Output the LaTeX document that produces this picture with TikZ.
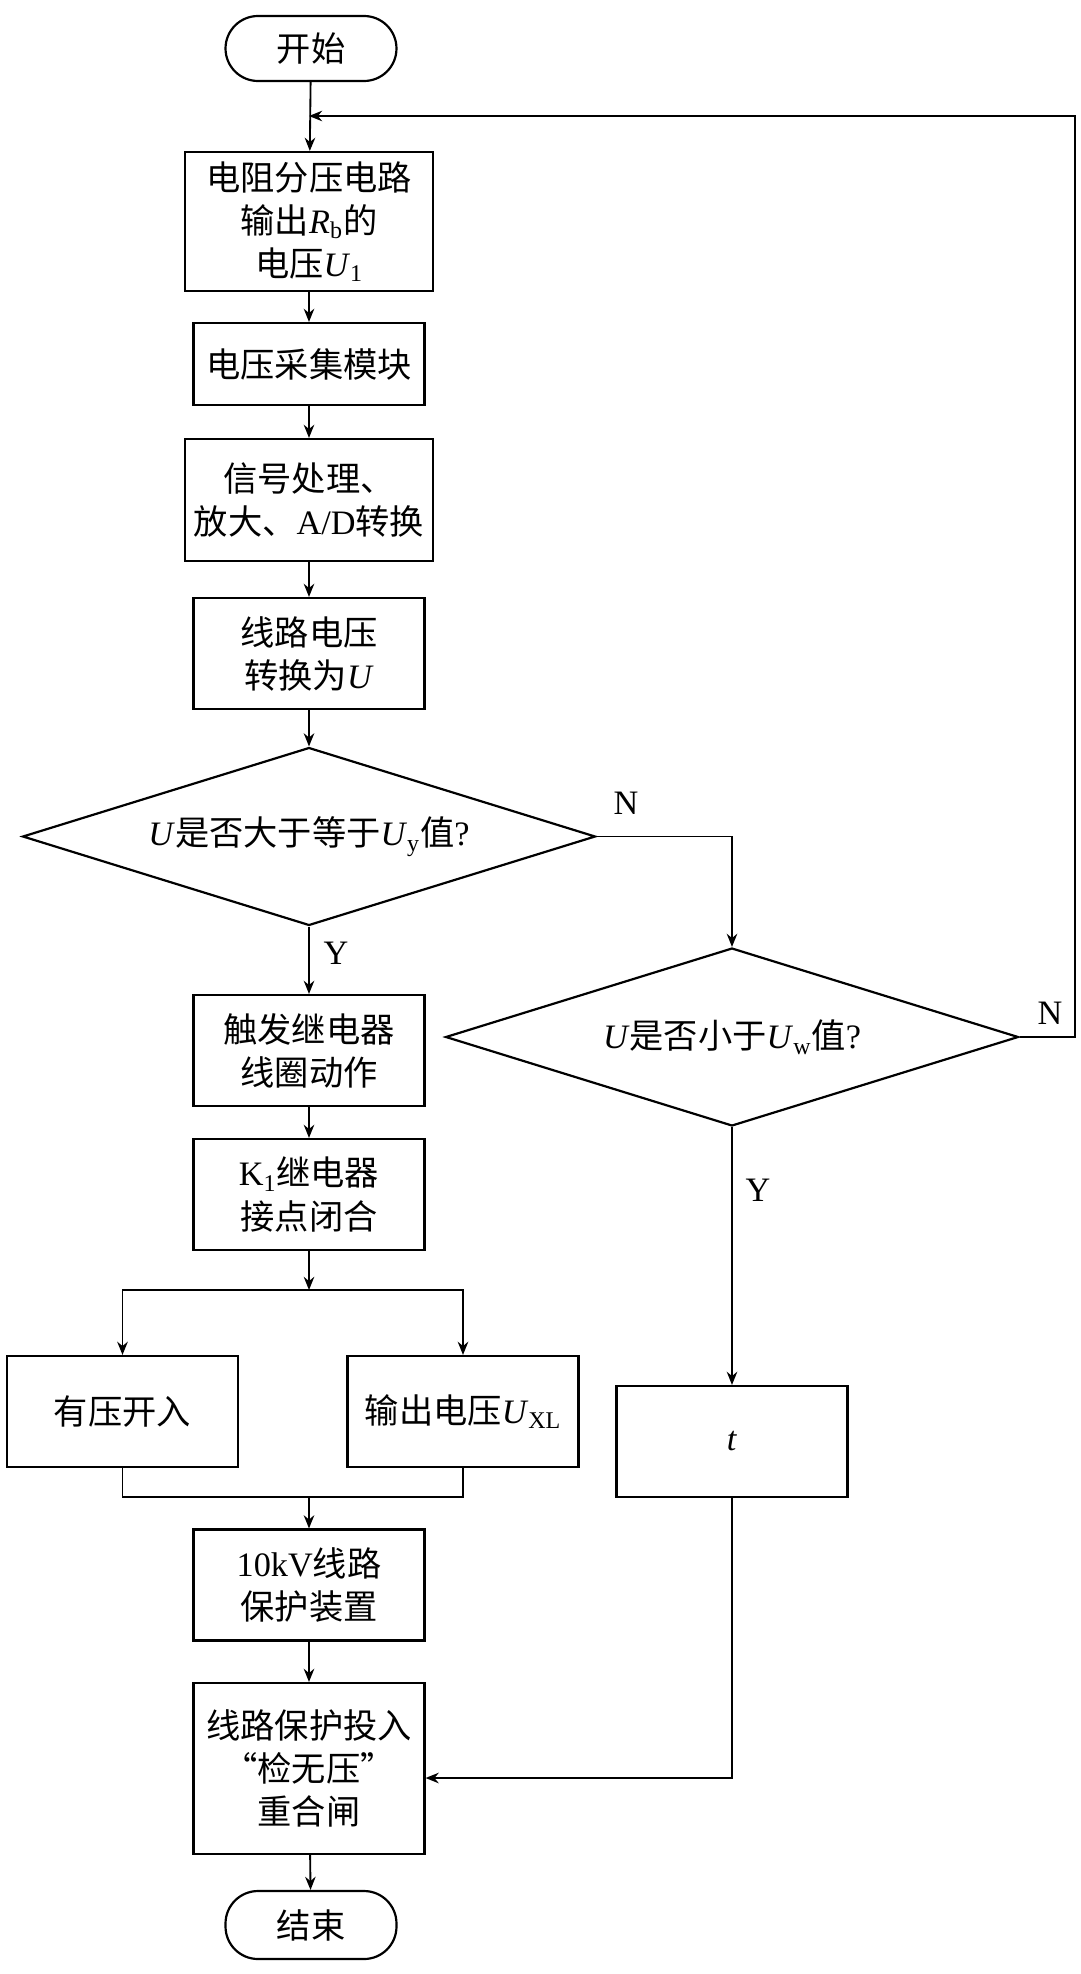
\documentclass[tikz,border=0pt]{standalone}
\usepackage{fontspec}
\setmainfont{Liberation Serif}
\newfontfamily\cjk{Noto Sans CJK SC}
\usepackage{tikz}
\usetikzlibrary{arrows.meta, positioning, shapes.geometric}
\newcommand{\rt}[1]{{\rmfamily #1}}
\newcommand{\uu}[1]{{\rmfamily\textit{U}\textsubscript{#1}}}
\tikzset{
    flow_line/.style={-{Stealth[length=7.5pt, width=6pt]}, line width=1.05pt},
    plain_line/.style={line width=1.05pt},
    process/.style={draw, line width=1.25pt, align=center, inner sep=2pt,
        minimum width=4.62cm, minimum height=2.22cm,
        font=\cjk\fontsize{19.5pt}{24.5pt}\selectfont},
    terminal/.style={process, rounded corners=0.65cm, minimum width=3.42cm, minimum height=1.3cm},
    decision/.style={process, diamond, aspect=3.2, inner sep=0pt, minimum width=11.46cm, minimum height=3.56cm},
    yn_label/.style={font=\rmfamily\fontsize{19.5pt}{24.5pt}\selectfont}
}
\begin{document}
\begin{tikzpicture}[x=0.02cm, y=-0.02cm]
    \useasboundingbox (0,0) rectangle (1080,1974);
    % main column
    \node[terminal] (start) at (311,48.5) {开始};
    \node[process, minimum width=4.96cm, minimum height=2.78cm] (divider) at (309,221.5)
        {电阻分压电路\\输出\rt{\textit{R}\textsubscript{b}}的\\电压\uu{1}};
    \node[process, minimum height=1.64cm] (sampler) at (309,364) {电压采集模块};
    \node[process, minimum width=4.96cm, minimum height=2.44cm] (adc) at (309,500)
        {信号处理、\\放大、\rt{A/D}转换};
    \node[process] (convert) at (309,653.5) {线路电压\\转换为\rt{\textit{U}}};
    \node[decision] (checkhigh) at (309,836.5) {\rt{\textit{U}}是否大于等于\uu{y}值\rt{?}};
    \node[process] (relay) at (309,1050.5) {触发继电器\\线圈动作};
    \node[process] (contact) at (309,1194.5) {\rt{K\textsubscript{1}}继电器\\接点闭合};
    \node[process] (pressin) at (122.5,1411.5) {有压开入};
    \node[process] (outvolt) at (463,1411.5) {输出电压\uu{XL}};
    \node[process] (protect) at (309,1585) {\rt{10kV}线路\\保护装置};
    \node[process, minimum height=3.42cm] (reclose) at (309,1768.5) {线路保护投入\\“检无压”\\重合闸};
    \node[terminal, minimum height=1.36cm] (stop) at (311,1925) {结束};
    % right column
    \node[decision] (checklow) at (732,1037) {\rt{\textit{U}}是否小于\uu{w}值\rt{?}};
    \node[process] (delay) at (732,1441.5) {\rt{\textit{t}}};

    \coordinate (fbin) at (309,116);
    \coordinate (fbtop) at (1075,116);
    \coordinate (split) at (309,1290);
    \coordinate (merge) at (309,1497);

    \draw[flow_line] (start) -- (divider);
    \draw[flow_line] (divider) -- (sampler);
    \draw[flow_line] (sampler) -- (adc);
    \draw[flow_line] (adc) -- (convert);
    \draw[flow_line] (convert) -- (checkhigh);
    \draw[flow_line] (checkhigh) -- (relay);
    \draw[flow_line] (relay) -- (contact);
    \draw[flow_line] (contact) -- (split);
    \draw[flow_line] (split) -| (pressin.north);
    \draw[flow_line] (split) -| (outvolt.north);
    \draw[plain_line] (pressin.south) |- (merge) -| (outvolt.south);
    \draw[flow_line] (merge) -- (protect);
    \draw[flow_line] (protect) -- (reclose);
    \draw[flow_line] (reclose) -- (stop);
    \draw[flow_line] (checkhigh.east) -| (checklow.north);
    \draw[flow_line] (checklow) -- (delay);
    \draw[flow_line] (delay.south) |- ([yshift=-0.19cm]reclose.east);
    \draw[flow_line] (checklow.east) -| (fbtop) -- (fbin);

    \node[yn_label] (n1) at (626,803) {N};
    \node[yn_label] (y1) at (336,953) {Y};
    \node[yn_label] (n2) at (1050,1013) {N};
    \node[yn_label] (y2) at (758,1190) {Y};
\end{tikzpicture}
\end{document}
